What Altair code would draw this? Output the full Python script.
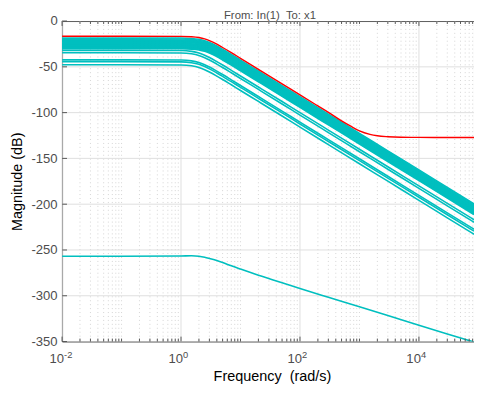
import altair as alt
import pandas as pd

# ---------------- data ----------------
freq = [0.01, 0.1, 1, 1.5, 2, 2.5, 3, 4, 5, 7, 10, 20, 50, 100, 300, 1000, 3000, 10000, 30000, 84300]

# relative shape (dB below DC gain) of the upper cyan family
upper_shape = [0, 0, -0.1, -0.5, -1.4, -2.9, -4.8, -8.7, -12.3, -17.9, -24.1, -36.1, -52.0, -64.1,
               -83.2, -104.1, -123.2, -144.1, -163.2, -181.1]
# relative shape of the lower cyan family (slightly lower corner)
lower_shape = [0, 0, -0.2, -1.1, -2.9, -5.3, -7.8, -12.3, -16.0, -21.8, -28.0, -40.0, -55.9, -68.0,
               -87.1, -108.0, -127.1, -148.0, -167.1, -185.0]

upper_gains = [-18.5, -19.5, -20.6, -21.3, -22.0, -22.7, -23.4, -24.2, -24.9, -25.6, -26.3, -27.1,
               -27.8, -28.5, -29.3, -30.2]
lower_gains = [-32.0, -34.7, -42.4, -44.4, -47.8]

low_line_db = [-256.8, -256.8, -256.5, -256.4, -256.9, -258.0, -259.3, -261.6, -263.7, -267.3, -270.9,
               -277.6, -285.7, -292.0, -301.6, -312.0, -321.6, -332.2, -341.7, -350.5]

red_freq = [0.01, 0.1, 1, 1.5, 2, 2.5, 3, 4, 5, 7, 10, 20, 50, 100, 200, 300, 500, 700, 1000, 1500,
            2000, 3000, 5000, 10000, 30000, 84300]
red_db = [-16.6, -16.6, -16.7, -17.1, -18.0, -19.5, -21.4, -25.3, -28.9, -34.5, -40.7, -52.7, -68.6,
          -80.7, -92.7, -99.7, -109.0, -114.5, -120.0, -123.8, -125.3, -126.3, -126.9, -127.1, -127.2,
          -127.2]

x_major = [0.01, 1, 100, 10000]
x_major_exp = ["-2", "0", "2", "4"]
y_ticks = [-350, -300, -250, -200, -150, -100, -50, 0]
y_grid = [-300, -250, -200, -150, -100, -50]

title_text = "From: In(1)\u00a0 To: x1"
x_title = "Frequency\u00a0 (rad/s)"
y_title = "Magnitude (dB)"

# ---------------- tables ----------------
XMAX = 84300
W, H = 419, 326

rows = []
for i, g in enumerate(upper_gains):
    for f, s in zip(freq, upper_shape):
        rows.append({"f": f, "db": g + s, "id": f"u{i}"})
for i, g in enumerate(lower_gains):
    for f, s in zip(freq, lower_shape):
        rows.append({"f": f, "db": g + s, "id": f"l{i}"})
cyan_df = pd.DataFrame(rows)
low_df = pd.DataFrame({"f": freq, "db": low_line_db})
red_df = pd.DataFrame({"f": red_freq, "db": red_db})

x_minor = []
for n in range(-2, 5):
    for k in range(1, 10):
        v = k * 10 ** n
        if k == 1 and v in x_major:
            continue
        if v < XMAX:
            x_minor.append(v)

minor_df = pd.DataFrame({"f": x_minor})
major_df = pd.DataFrame({"f": x_major, "base": ["10"] * len(x_major), "exp": x_major_exp})
ygrid_df = pd.DataFrame({"db": y_grid})
ytick_df = pd.DataFrame({"db": y_ticks})
title_df = pd.DataFrame({"t": [title_text]})

FONT = "Liberation Sans"
AX = "#4d4d4d"

xscale = alt.Scale(type="log", domain=[0.01, XMAX], nice=False)
yscale = alt.Scale(domain=[-350, 0], nice=False, zero=False)

x_axis = alt.Axis(labels=False, ticks=False, domain=False, grid=False, title=x_title,
                  titleX=W / 2 + 4, titleY=40, titleAlign="center", titleBaseline="alphabetic",
                  titleFont=FONT, titleFontSize=14.67, titleFontWeight="normal", titleColor="#000000")
y_axis = alt.Axis(values=y_ticks, labelExpr="'' + datum.value", ticks=False, domain=False, grid=False,
                  labelPadding=5, labelFont=FONT, labelFontSize=13.3, labelColor=AX,
                  title=y_title, titleX=-41, titleY=H / 2, titleAngle=-90, titleAlign="center",
                  titleBaseline="alphabetic", titleFont=FONT, titleFontSize=14.67,
                  titleFontWeight="normal", titleColor="#000000")

def X():
    return alt.X("f", type="quantitative", scale=xscale, axis=x_axis)

def Y():
    return alt.Y("db", type="quantitative", scale=yscale, axis=y_axis)

minor_grid = alt.Chart(minor_df).mark_rule(color="#d4d4d4", strokeWidth=1, strokeDash=[1, 3]).encode(x=X())
major_grid = alt.Chart(major_df).mark_rule(color="#dedede", strokeWidth=1).encode(x=X())
y_grid_l = alt.Chart(ygrid_df).mark_rule(color="#dedede", strokeWidth=1).encode(y=Y())

cyan = alt.Chart(cyan_df).mark_line(color="#00bfbf", strokeWidth=1.6, clip=True, interpolate="monotone").encode(
    x=X(), y=Y(), detail="id:N")
low = alt.Chart(low_df).mark_line(color="#00bfbf", strokeWidth=1.6, clip=True, interpolate="monotone").encode(
    x=X(), y=Y())
red = alt.Chart(red_df).mark_line(color="#ff0000", strokeWidth=1.4, clip=True, interpolate="monotone").encode(
    x=X(), y=Y())

tick_col = "#555555"
bot_major = alt.Chart(major_df).mark_rule(color=tick_col).encode(x=X(), y=alt.value(H), y2=alt.value(H - 5))
top_major = alt.Chart(major_df).mark_rule(color=tick_col).encode(x=X(), y=alt.value(0), y2=alt.value(5))
bot_minor = alt.Chart(minor_df).mark_rule(color=tick_col).encode(x=X(), y=alt.value(H), y2=alt.value(H - 3))
top_minor = alt.Chart(minor_df).mark_rule(color=tick_col).encode(x=X(), y=alt.value(0), y2=alt.value(3))
left_ticks = alt.Chart(ytick_df).mark_rule(color=tick_col).encode(y=Y(), x=alt.value(0), x2=alt.value(5))

lab_base = alt.Chart(major_df).mark_text(align="right", baseline="alphabetic", dx=2, font=FONT,
                                         fontSize=13.3, color=AX).encode(
    x=X(), y=alt.value(H + 22), text="base:N")
lab_exp = alt.Chart(major_df).mark_text(align="left", baseline="alphabetic", dx=2, font=FONT,
                                        fontSize=9.5, color=AX).encode(
    x=X(), y=alt.value(H + 16.5), text="exp:N")

title_mark = alt.Chart(title_df).mark_text(align="center", baseline="alphabetic", font=FONT,
                                           fontSize=11.5, color=AX).encode(
    x=alt.value(W / 2 + 2), y=alt.value(-1.6), text="t:N")

chart = alt.layer(
    minor_grid, major_grid, y_grid_l, cyan, low, red,
    bot_major, top_major, bot_minor, top_minor, left_ticks, lab_base, lab_exp, title_mark
).properties(
    width=W, height=H,
    autosize=alt.AutoSizeParams(type="none"),
    padding={"left": 55, "top": 10, "right": 0, "bottom": 45},
).configure_view(stroke="#5a5a5a", strokeWidth=1)

chart.save("out.html", embed_options={"renderer": "svg", "actions": False})
